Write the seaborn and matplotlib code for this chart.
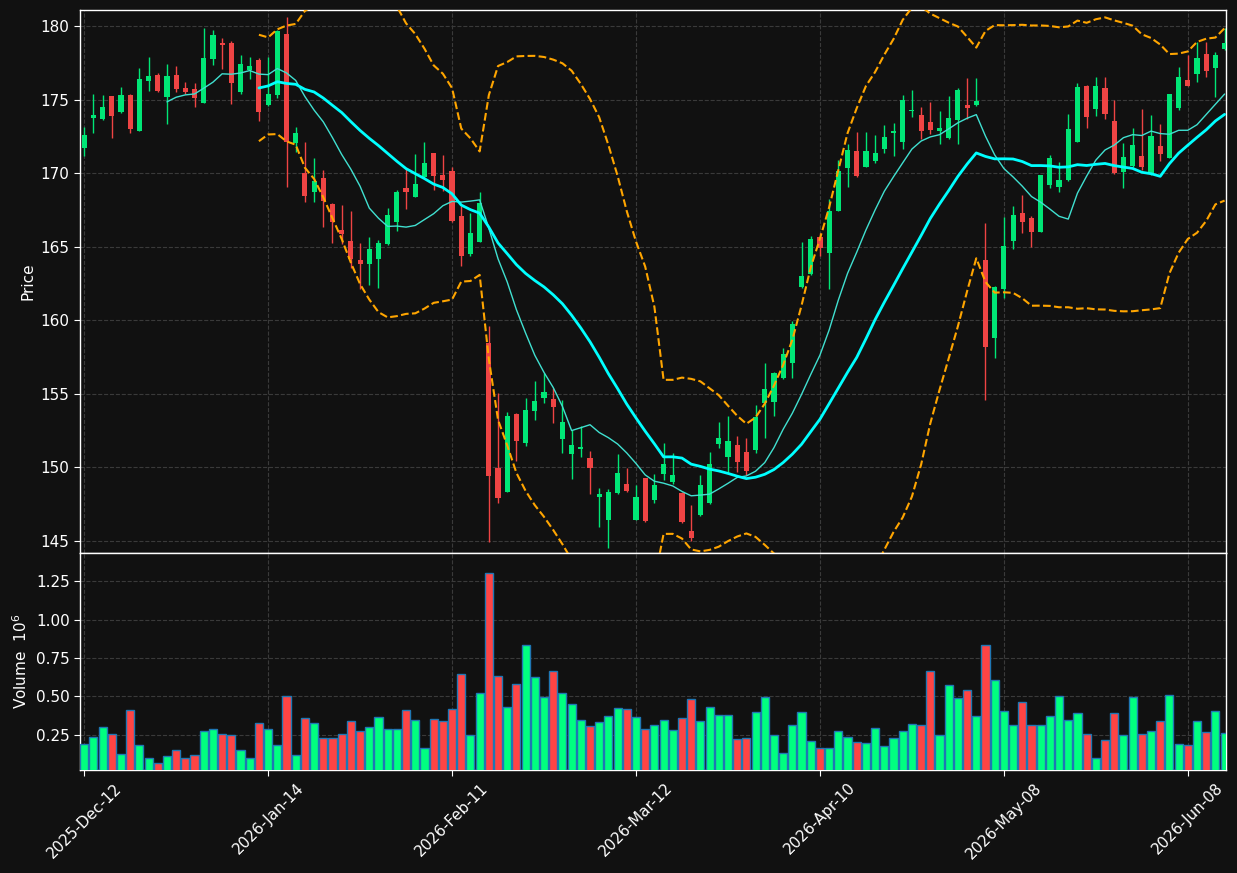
import numpy as np
import pandas as pd
import matplotlib
matplotlib.use("Agg")
import matplotlib.pyplot as plt
import seaborn as sns

sns.set_style("dark")
plt.rcParams['font.family'] = ['DejaVu Sans']

# daily OHLC
opens = [171.73, 173.77, 173.68, 175.22, 174.18, 175.31, 172.89, 176.28, 176.67, 175.20,
         176.67, 175.79, 175.70, 174.79, 177.78, 178.87, 178.84, 175.54, 176.99, 177.69,
         174.65, 175.31, 179.46, 172.07, 170.01, 168.74, 169.67, 167.90, 166.14, 165.39,
         164.10, 163.85, 164.19, 165.21, 166.70, 168.97, 168.40, 169.74, 171.37, 169.87,
         170.17, 167.09, 164.53, 165.34, 158.45, 149.98, 148.35, 153.63, 151.66, 153.86,
         154.74, 154.65, 151.96, 150.89, 151.23, 150.66, 148.00, 146.42, 148.28, 148.90,
         146.42, 149.26, 147.80, 149.55, 149.00, 148.26, 145.68, 146.77, 147.60, 151.56,
         150.72, 151.50, 151.05, 151.20, 154.35, 154.46, 156.10, 157.12, 162.27, 163.16,
         165.68, 164.55, 167.45, 170.37, 171.50, 170.43, 170.84, 171.66, 172.76, 172.14,
         174.22, 173.95, 173.48, 172.89, 172.41, 173.64, 174.63, 174.65, 164.10, 158.82,
         162.10, 165.42, 167.29, 166.95, 166.02, 169.22, 169.08, 169.56, 172.14, 175.92,
         174.38, 175.79, 173.54, 170.10, 170.51, 171.16, 169.92, 171.84, 171.05, 174.45,
         176.33, 176.76, 178.10, 177.17, 178.46]
highs = [173.11, 175.36, 175.29, 175.25, 175.83, 175.35, 177.15, 177.87, 176.78, 177.42,
         177.28, 176.19, 176.10, 179.84, 179.73, 179.16, 178.96, 178.00, 177.87, 177.80,
         177.87, 179.75, 180.63, 173.11, 172.12, 171.00, 170.19, 167.95, 167.81, 167.40,
         165.27, 165.64, 165.48, 167.61, 168.85, 170.28, 171.30, 172.12, 171.40, 171.21,
         170.44, 167.77, 167.32, 168.74, 159.63, 155.03, 153.74, 153.70, 154.70, 155.90,
         156.40, 155.37, 154.60, 152.53, 152.80, 151.10, 148.60, 148.53, 150.94, 149.95,
         148.80, 149.30, 149.55, 151.64, 151.00, 148.30, 147.45, 149.46, 151.06, 153.06,
         153.47, 152.10, 151.97, 154.24, 157.10, 156.50, 158.10, 159.95, 165.30, 165.73,
         165.91, 168.24, 170.90, 172.00, 172.80, 172.80, 172.60, 173.25, 173.38, 175.29,
         175.63, 174.47, 174.81, 174.20, 175.22, 175.79, 176.44, 176.44, 166.59, 162.30,
         167.04, 167.77, 168.51, 167.06, 169.90, 171.23, 170.73, 174.00, 176.10, 176.00,
         176.51, 176.51, 175.00, 172.03, 173.09, 174.34, 173.95, 173.32, 175.40, 177.24,
         178.03, 178.94, 178.94, 178.26, 179.89]
lows = [171.19, 172.75, 173.60, 172.37, 174.10, 172.75, 172.85, 175.56, 175.54, 173.32,
        175.54, 175.38, 174.47, 174.75, 177.33, 177.10, 174.68, 175.37, 176.38, 173.52,
        174.60, 175.13, 169.08, 171.46, 168.06, 168.06, 166.36, 165.23, 165.21, 163.53,
        162.10, 162.40, 162.20, 165.15, 166.07, 167.54, 168.35, 169.70, 168.85, 168.81,
        166.70, 163.70, 164.37, 165.30, 144.91, 147.61, 148.30, 150.45, 151.48, 153.20,
        154.40, 153.00, 150.96, 149.20, 150.70, 148.17, 145.95, 144.50, 148.20, 148.30,
        146.40, 146.30, 147.58, 149.15, 148.87, 146.20, 144.96, 146.70, 147.50, 151.29,
        149.70, 149.70, 149.50, 151.00, 151.99, 153.50, 156.00, 156.10, 162.20, 163.10,
        164.37, 162.10, 167.40, 169.08, 169.74, 170.40, 170.66, 171.34, 171.20, 171.64,
        173.80, 172.30, 172.64, 171.96, 172.35, 171.98, 173.66, 174.60, 154.58, 157.41,
        161.49, 164.82, 165.91, 165.00, 166.00, 168.97, 168.74, 169.50, 172.10, 173.05,
        173.88, 173.70, 169.92, 168.97, 170.45, 170.19, 169.90, 170.85, 171.00, 174.29,
        175.90, 176.17, 176.56, 175.15, 178.40]
closes = [172.59, 173.95, 174.50, 173.91, 175.31, 173.02, 176.40, 176.60, 175.60, 176.60,
          175.74, 175.54, 175.13, 177.83, 179.39, 178.71, 176.13, 177.42, 177.28, 174.18,
          175.38, 179.68, 172.14, 172.73, 168.45, 169.47, 168.13, 166.68, 165.86, 164.14,
          163.82, 164.84, 165.25, 167.15, 168.72, 168.74, 169.26, 170.69, 169.83, 169.56,
          166.77, 164.37, 165.93, 167.97, 149.44, 147.95, 153.50, 151.82, 153.90, 154.51,
          155.12, 154.13, 153.09, 151.55, 151.39, 149.98, 148.20, 148.30, 149.60, 148.40,
          148.00, 146.35, 148.80, 150.22, 149.48, 146.27, 145.23, 148.80, 150.22, 151.97,
          151.79, 150.38, 149.78, 153.45, 155.35, 156.43, 157.70, 159.74, 163.00, 165.52,
          164.93, 167.45, 170.14, 171.57, 169.80, 171.50, 171.37, 172.43, 172.87, 174.97,
          174.29, 172.89, 172.96, 173.07, 173.75, 175.65, 174.45, 174.90, 158.21, 162.24,
          165.05, 167.16, 166.70, 166.02, 169.87, 171.00, 169.53, 173.00, 175.85, 173.84,
          175.92, 174.04, 170.01, 171.07, 171.91, 170.44, 172.52, 171.32, 175.38, 176.53,
          175.94, 177.83, 176.96, 178.03, 178.84]
# volume in millions
volumes = [0.189, 0.235, 0.300, 0.254, 0.124, 0.411, 0.182, 0.098, 0.065, 0.111,
           0.150, 0.098, 0.117, 0.274, 0.287, 0.254, 0.248, 0.150, 0.098, 0.326,
           0.287, 0.182, 0.503, 0.117, 0.359, 0.326, 0.228, 0.228, 0.254, 0.339,
           0.274, 0.300, 0.365, 0.287, 0.287, 0.411, 0.346, 0.163, 0.352, 0.339,
           0.418, 0.646, 0.248, 0.522, 1.304, 0.633, 0.431, 0.581, 0.836, 0.627,
           0.496, 0.666, 0.522, 0.450, 0.346, 0.307, 0.333, 0.372, 0.424, 0.418,
           0.365, 0.287, 0.313, 0.346, 0.281, 0.359, 0.483, 0.339, 0.431, 0.379,
           0.379, 0.222, 0.228, 0.398, 0.496, 0.248, 0.130, 0.313, 0.398, 0.209,
           0.163, 0.163, 0.274, 0.235, 0.202, 0.196, 0.294, 0.176, 0.228, 0.274,
           0.320, 0.313, 0.666, 0.248, 0.575, 0.490, 0.542, 0.372, 0.836, 0.607,
           0.405, 0.313, 0.463, 0.313, 0.313, 0.372, 0.503, 0.346, 0.392, 0.254,
           0.098, 0.215, 0.392, 0.248, 0.496, 0.254, 0.274, 0.339, 0.509, 0.189,
           0.182, 0.339, 0.268, 0.405, 0.261]
tick_pos = [0, 20, 40, 60, 80, 100, 120]
tick_labels = ['2025-Dec-12', '2026-Jan-14', '2026-Feb-11', '2026-Mar-12',
               '2026-Apr-10', '2026-May-08', '2026-Jun-08']

df = pd.DataFrame({'open': opens, 'high': highs, 'low': lows,
                   'close': closes, 'volume': volumes})
df['idx'] = np.arange(len(df))
df['dir'] = np.where(df['close'] >= df['open'], 'up', 'down')
df['ma10'] = df['close'].rolling(10).mean()
df['ma20'] = df['close'].rolling(20).mean()
sd = df['close'].rolling(20).std()
df['bb_up'] = df['ma20'] + 2 * sd
df['bb_lo'] = df['ma20'] - 2 * sd

BG = '#111111'
GRID = '#3a3a3a'
up_c, dn_c = '#00e676', '#ef4444'
vup_c, vdn_c = '#00ff80', '#ff4444'

fig = plt.figure(figsize=(12.37, 8.73), dpi=100, facecolor=BG)
ax = fig.add_axes([0.0647, 0.3666, 0.9264, 0.6219])
axv = fig.add_axes([0.0647, 0.118, 0.9264, 0.2486], sharex=ax)

for a in (ax, axv):
    a.set_facecolor(BG)
    a.grid(True, color=GRID, linestyle='--', linewidth=0.8)
    for s in a.spines.values():
        s.set_color('white')
        s.set_linewidth(1)
    a.tick_params(colors='white', labelsize=11, length=4, direction='out',
                  left=True, bottom=True)

# candles
ccol = np.where(df['dir'] == 'up', up_c, dn_c)
ax.vlines(df['idx'], df['low'], df['high'], colors=ccol, linewidth=1, zorder=2)
body_lo = np.minimum(df['open'], df['close'])
body_h = (df['close'] - df['open']).abs().clip(lower=0.05)
ax.bar(df['idx'], body_h, bottom=body_lo, width=0.56, color=ccol,
       edgecolor=ccol, linewidth=0, zorder=3)

# moving averages and bands
sns.lineplot(data=df, x='idx', y='ma10', ax=ax, color='#40e0d0', linewidth=1, zorder=4)
sns.lineplot(data=df, x='idx', y='ma20', ax=ax, color='#00ffff', linewidth=2, zorder=4)
sns.lineplot(data=df, x='idx', y='bb_up', ax=ax, color='#ffa500', linewidth=1.5,
             linestyle='--', zorder=4)
sns.lineplot(data=df, x='idx', y='bb_lo', ax=ax, color='#ffa500', linewidth=1.5,
             linestyle='--', zorder=4)

ax.set_ylim(144.18, 181.09)
ax.set_yticks([145, 150, 155, 160, 165, 170, 175, 180])
ax.set_ylabel('Price', color='white', fontsize=11)
ax.set_xlabel('')
plt.setp(ax.get_xticklabels(), visible=False)

# volume
vcol = np.where(df['dir'] == 'up', vup_c, vdn_c)
axv.bar(df['idx'], df['volume'], width=0.88, color=vcol, edgecolor='#1f77b4',
        linewidth=1, zorder=3)
axv.set_ylim(0.3 * min(volumes), 1.1 * max(volumes))
axv.set_yticks([0.25, 0.50, 0.75, 1.00, 1.25])
axv.set_yticklabels(['0.25', '0.50', '0.75', '1.00', '1.25'])
axv.set_ylabel('Volume  $10^6$', color='white', fontsize=11)

axv.set_xlim(-0.45, len(df) - 1 + 0.15)
axv.set_xticks(tick_pos)
axv.set_xticklabels(tick_labels, rotation=45)
axv.set_xlabel('')

fig.savefig('out.png', dpi=100, facecolor=BG)
plt.close(fig)
